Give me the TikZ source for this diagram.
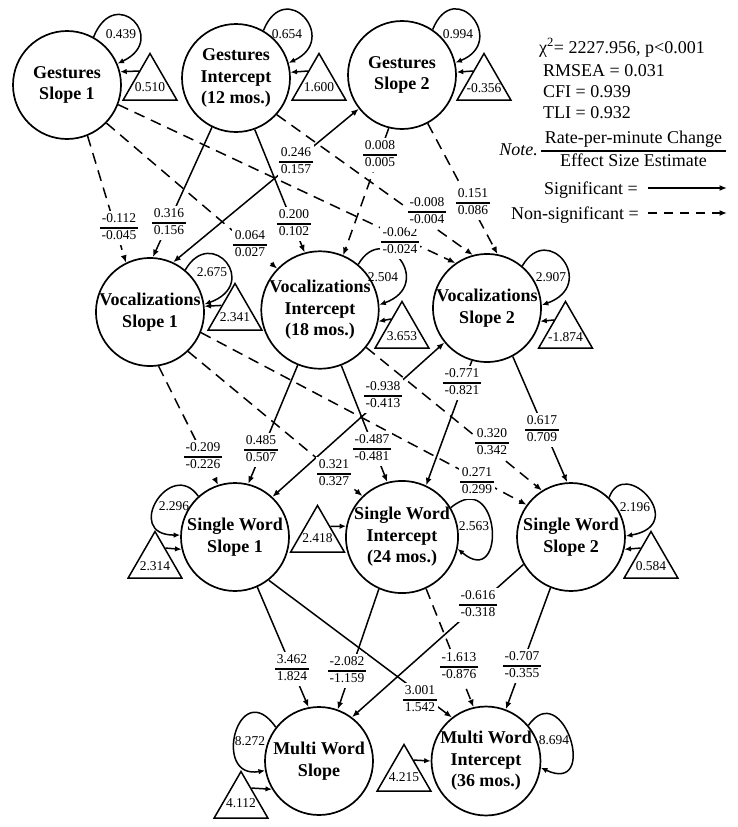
\documentclass[tikz,border=0pt]{standalone}
\usepackage{fontspec}
\setmainfont{Liberation Serif}
\usetikzlibrary{arrows.meta,shapes.geometric,calc}
\newcommand{\cfr}[2]{{\setlength{\arrayrulewidth}{1.1pt}\begin{tabular}{@{\hspace{1.5pt}}c@{\hspace{1.5pt}}}#1\\\hline #2\end{tabular}}}
\newcommand{\lfr}[2]{{\setlength{\arrayrulewidth}{1.2pt}\begin{tabular}{@{\hspace{3.5pt}}c@{\hspace{3.5pt}}}#1\\\hline #2\end{tabular}}}
\begin{document}
\begin{tikzpicture}[x=1pt,y=1pt,
  lat/.style={circle, draw, line width=1.7pt, minimum size=108pt, inner sep=0pt, align=center, font=\bfseries\fontsize{18}{21.5}\selectfont},
  tri/.style={regular polygon, regular polygon sides=3, draw, line width=1.5pt, minimum size=62pt, inner sep=0pt},
  num/.style={font=\fontsize{13.5}{15.5}\selectfont, inner sep=0pt},
  coef/.style={num, fill=white, inner sep=1pt},
  legend/.style={font=\fontsize{18}{21.6}\selectfont, inner sep=0pt},
  sig/.style={line width=1.5pt, -{Latex[length=7.5pt,width=6pt]}},
  nsig/.style={sig, dash pattern=on 11pt off 7pt},
  dbl/.style={line width=1.5pt, {Latex[length=7.5pt,width=6pt]}-{Latex[length=7.5pt,width=6pt]}},
  var/.style={line width=1.5pt, -{Latex[length=6.5pt,width=5.5pt]}},
]
\useasboundingbox (0,0) rectangle (737,-827);
\fill[white] (0,0) rectangle (737,-827);

% latent factors
\node[lat] (gs1) at (67,-85) {Gestures\\Slope 1};
\node[lat] (gi) at (236,-78) {Gestures\\Intercept\\(12 mos.)};
\node[lat] (gs2) at (402,-75) {Gestures\\Slope 2};
\node[lat] (vs1) at (150,-312) {Vocalizations\\Slope 1};
\node[lat] (vi) at (320,-310) {Vocalizations\\Intercept\\(18 mos.)};
\node[lat] (vs2) at (487,-308) {Vocalizations\\Slope 2};
\node[lat] (sws1) at (235,-537) {Single Word\\Slope 1};
\node[lat] (swi) at (402,-537) {Single Word\\Intercept\\(24 mos.)};
\node[lat] (sws2) at (571,-537) {Single Word\\Slope 2};
\node[lat] (mws) at (319,-761) {Multi Word\\Slope};
\node[lat] (mwi) at (486,-761) {Multi Word\\Intercept\\(36 mos.)};

% means (triangles)
\node[tri, label={[num,yshift=-3pt]center:0.510}] (t1) at (150,-84.5) {};
\node[tri, label={[num,yshift=-3pt]center:1.600}] (t2) at (319,-84.5) {};
\node[tri, label={[num,yshift=-4pt]center:-0.356}] (t3) at (484,-84.5) {};
\node[tri, label={[num,yshift=-3pt]center:2.341}] (t4) at (235,-314.5) {};
\node[tri, label={[num,yshift=-4pt]center:3.653}] (t5) at (402,-332.5) {};
\node[tri, label={[num,yshift=-5pt]center:-1.874}] (t6) at (565.5,-332.5) {};
\node[tri, label={[num,yshift=-4pt]center:2.314}] (t7) at (155,-562.5) {};
\node[tri, label={[num,yshift=-2pt]center:2.418}] (t8) at (317.5,-536.5) {};
\node[tri, label={[num,yshift=-4pt]center:0.584}] (t9) at (651,-562.5) {};
\node[tri, label={[num,yshift=-1pt]center:4.112}] (t10) at (241,-802.5) {};
\node[tri, label={[num,yshift=-2pt]center:4.215}] (t11) at (404,-775.5) {};

\draw[var] ($(t1.corner 1)!0.39!(t1.corner 2)$) -- (gs1.14);
\draw[var] ($(t2.corner 1)!0.39!(t2.corner 2)$) -- (gi.6);
\draw[var] ($(t3.corner 1)!0.39!(t3.corner 2)$) -- (gs2.3);
\draw[var] ($(t4.corner 1)!0.48!(t4.corner 2)$) -- (vs1.6);
\draw[var] ($(t5.corner 1)!0.39!(t5.corner 2)$) -- (vi.-11);
\draw[var] ($(t6.corner 1)!0.41!(t6.corner 2)$) -- (vs2.-14);
\draw[var] ($(t7.corner 1)!0.37!(t7.corner 3)$) -- (sws1.193);
\draw[var] ($(t8.corner 1)!0.46!(t8.corner 3)$) -- (swi.169);
\draw[var] ($(t9.corner 1)!0.37!(t9.corner 2)$) -- (sws2.-13);
\draw[var] ($(t10.corner 1)!0.37!(t10.corner 3)$) -- (mws.211);
\draw[var] ($(t11.corner 1)!0.35!(t11.corner 3)$) -- (mwi.180);

% variances (loops)
\draw[var] (gs1.61) .. controls +(68:58) and +(25:57) .. (gs1.23);
\draw[var] (gi.60) .. controls +(68:58) and +(25:57) .. (gi.16);
\draw[var] (gs2.56) .. controls +(68:58) and +(22:57) .. (gs2.13);
\draw[var] (vs1.50) .. controls +(60:52) and +(20:60) .. (vs1.8);
\draw[var] (vi.50) .. controls +(60:52) and +(20:60) .. (vi.5);
\draw[var] (vs2.50) .. controls +(60:52) and +(20:60) .. (vs2.3);
\draw[var] (sws1.132) .. controls +(125:48) and +(180:58) .. (sws1.178);
\draw[var] (swi.31) .. controls +(40:65) and +(-40:65) .. (swi.-12);
\draw[var] (sws2.46) .. controls +(70:45) and +(10:65) .. (sws2.1);
\draw[var] (mws.142) .. controls +(125:65) and +(190:55) .. (mws.190);
\draw[var] (mwi.40) .. controls +(55:60) and +(-25:65) .. (mwi.-7);

\node[num] (v1) at (121,-34) {0.439};
\node[num] (v2) at (287,-34) {0.654};
\node[num] (v3) at (458,-34) {0.994};
\node[num] (v4) at (212,-272) {2.675};
\node[num] (v5) at (383,-277) {2.504};
\node[num] (v6) at (551,-277) {2.907};
\node[num] (v7) at (174,-506) {2.296};
\node[num] (v8) at (474,-526) {2.563};
\node[num] (v9) at (635,-507) {2.196};
\node[num] (v10) at (250,-741) {8.272};
\node[num] (v11) at (554,-740) {8.694};

% paths
\draw[nsig] (gs1.-68) -- (vs1.116);
\draw[sig] (gi.-116) -- (vs1.87);
\draw[dbl] (vs1.65) -- (gs2.218);
\draw[sig] (gi.-70) -- (vi.105);
\draw[nsig] (gs1.-44) -- (vi.136);
\draw[nsig] (gs1.-21) -- (vs2.125);
\draw[nsig] (gi.-42) -- (vs2.105);
\draw[nsig] (gs2.-104) -- (vi.67);
\draw[nsig] (gs2.-62) -- (vs2.79);
\draw[nsig] (vs1.-81) -- (sws1.108);
\draw[sig] (vi.-112) -- (sws1.76);
\draw[dbl] (sws1.47) -- (vs2.219);
\draw[sig] (vi.-69) -- (swi.105);
\draw[nsig] (vs1.-46) -- (swi.134);
\draw[nsig] (vs1.-22) -- (sws2.144);
\draw[nsig] (vi.-39) -- (sws2.122);
\draw[sig] (vs2.-106) -- (swi.65);
\draw[sig] (vs2.-62) -- (sws2.94);
\draw[sig] (sws1.-66) -- (mws.101);
\draw[sig] (swi.-114) -- (mws.70);
\draw[sig] (sws1.-52) -- (mwi.128);
\draw[nsig] (swi.-65) -- (mwi.103);
\draw[sig] (sws2.-150) -- (mws.53);
\draw[sig] (sws2.-112) -- (mwi.69);

% coefficients
\node[coef] (c1) at (119,-228) {\cfr{-0.112}{-0.045}};
\node[coef] (c2) at (169,-223) {\cfr{0.316}{0.156}};
\node[coef] (c3) at (296,-162) {\cfr{0.246}{0.157}};
\node[coef] (c4) at (294,-224) {\cfr{0.200}{0.102}};
\node[coef] (c5) at (250,-245) {\cfr{0.064}{0.027}};
\node[coef] (c6) at (400,-242) {\cfr{-0.062}{-0.024}};
\node[coef] (c7) at (427,-212) {\cfr{-0.008}{-0.004}};
\node[coef] (c8) at (380,-155) {\cfr{0.008}{0.005}};
\node[coef] (c9) at (473,-203) {\cfr{0.151}{0.086}};
\node[coef] (c10) at (203,-457) {\cfr{-0.209}{-0.226}};
\node[coef] (c11) at (261,-450) {\cfr{0.485}{0.507}};
\node[coef] (c12) at (383,-396) {\cfr{-0.938}{-0.413}};
\node[coef] (c13) at (372,-449) {\cfr{-0.487}{-0.481}};
\node[coef] (c14) at (334,-474) {\cfr{0.321}{0.327}};
\node[coef] (c15) at (477,-482) {\cfr{0.271}{0.299}};
\node[coef] (c16) at (492,-443) {\cfr{0.320}{0.342}};
\node[coef] (c17) at (462,-383) {\cfr{-0.771}{-0.821}};
\node[coef] (c18) at (542,-430) {\cfr{0.617}{0.709}};
\node[coef] (c19) at (292,-669) {\cfr{3.462}{1.824}};
\node[coef] (c20) at (347,-671) {\cfr{-2.082}{-1.159}};
\node[coef] (c21) at (420,-700) {\cfr{3.001}{1.542}};
\node[coef] (c22) at (459,-667) {\cfr{-1.613}{-0.876}};
\node[coef] (c23) at (478,-605) {\cfr{-0.616}{-0.318}};
\node[coef] (c24) at (522,-666) {\cfr{-0.707}{-0.355}};

% fit statistics and legend
\node[legend, anchor=base west] (chi) at (539,-53) {χ\textsuperscript{2}= 2227.956, p<0.001};
\node[legend, anchor=base west] (rmsea) at (543,-76) {RMSEA = 0.031};
\node[legend, anchor=base west] (cfi) at (543,-97) {CFI = 0.939};
\node[legend, anchor=base west] (tli) at (543,-118) {TLI = 0.932};
\node[legend, anchor=base east, font=\itshape\fontsize{18}{21.6}\selectfont] (note) at (538,-155) {Note.};
\node[legend] (frac) at (633.5,-151) {\lfr{Rate-per-minute Change}{Effect Size Estimate}};
\node[legend, anchor=base west] (sigl) at (544,-194) {Significant =};
\node[legend, anchor=base west] (nsigl) at (511,-219) {Non-significant =};
\coordinate (sa) at (648,-188);
\coordinate (sb) at (727,-188);
\coordinate (na) at (648,-213);
\coordinate (nb) at (727,-213);
\draw[sig] (sa) -- (sb);
\draw[sig, dash pattern=on 9pt off 7pt] (na) -- (nb);
\end{tikzpicture}
\end{document}
